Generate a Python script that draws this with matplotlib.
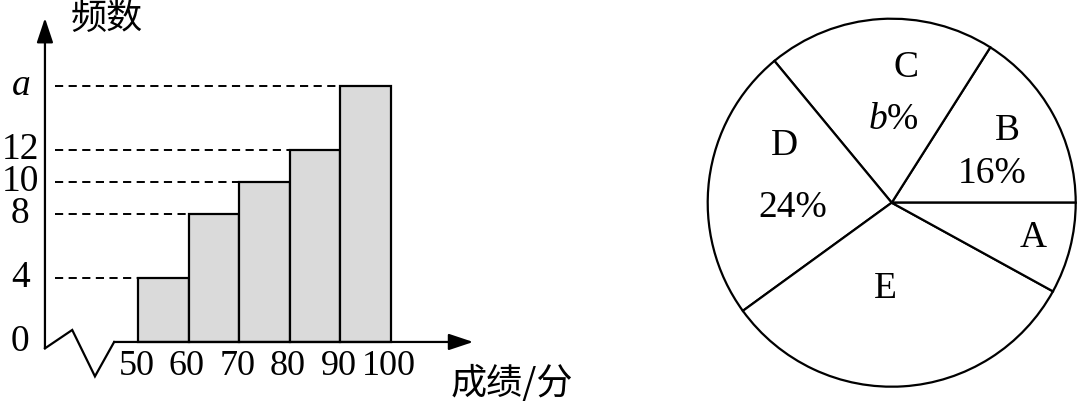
import numpy as np
import matplotlib.pyplot as plt

plt.rcParams['font.family'] = ['Liberation Serif', 'Noto Sans CJK SC']
plt.rcParams['mathtext.fontset'] = 'custom'
plt.rcParams['mathtext.rm'] = 'Liberation Serif'
plt.rcParams['mathtext.it'] = 'Liberation Serif:italic'

# histogram data (score bands and counts, a = 16)
edges = [50, 60, 70, 80, 90, 100]
counts = [4, 8, 10, 12, 16]
y_ticks = [0, 4, 8, 10, 12, 16]
y_tick_labels = ['0', '4', '8', '10', '12', '$a$']

# pie data (counter-clockwise from 3 o'clock)
pie_names = ['B', 'C', 'D', 'E', 'A']
pie_shares = [16, 20, 24, 32, 8]
pie_texts = ['16%', '$b$%', '24%', '', '']

fig = plt.figure(figsize=(10.8, 4.05), dpi=100)

# ---- left: frequency histogram ----
ax = fig.add_axes([0, 0, 600 / 1080, 1])
ax.set_xlim(22.6, 141.4)
ax.set_ylim(-3.94, 21.375)
ax.axis('off')

lw = 1.6
widths = np.diff(edges)
ax.bar(edges[:-1], counts, width=widths, align='edge', color='#dadada',
       edgecolor='black', linewidth=lw, zorder=2)

x_axis0 = 31.5  # where the broken y axis stands
# dashed guides to each bar's left top corner
for left, c in zip(edges[:-1], counts):
    ax.plot([x_axis0 + 1.9, left], [c, c], color='black', lw=1.4,
            linestyle=(0, (4.2, 2.8)), zorder=1)

arrow = dict(arrowstyle='-|>,head_length=1.5,head_width=0.5',
             color='black', lw=lw, shrinkA=0, shrinkB=0)
# y axis with arrow
ax.annotate('', xy=(x_axis0, 20.25), xytext=(x_axis0, -0.4), arrowprops=arrow)
# zig-zag break then x axis with arrow
zig_x = [x_axis0, 36.9, 41.4, 45.2]
zig_y = [-0.4, 0.75, -2.15, 0]
ax.plot(zig_x, zig_y, color='black', lw=lw, solid_joinstyle='miter')
ax.annotate('', xy=(116.3, 0), xytext=(45.2, 0), arrowprops=arrow)

for v, lab in zip(y_ticks, y_tick_labels):
    ax.text(26.6, v, lab, ha='center', va='center', fontsize=27)
for e in edges:
    ax.text(e - 0.4, -1.55, str(e), ha='center', va='center', fontsize=26)

ax.text(36.6, 21.3, '频数', ha='left', va='top', fontsize=26,
        family=['Noto Sans CJK SC'])
ax.text(124.0, -2.6, '成绩/分', ha='center', va='center', fontsize=26,
        family=['Noto Sans CJK SC'])

# ---- right: pie chart ----
r_px = 184
cx, cy = 891.7, 405 - 202.7
side = 2.2 * r_px
pax = fig.add_axes([(cx - side / 2) / 1080, (cy - side / 2) / 405,
                    side / 1080, side / 405])
wedges, _ = pax.pie(pie_shares, startangle=0, counterclock=True,
                    colors=['white'] * len(pie_shares),
                    wedgeprops=dict(edgecolor='black', linewidth=lw))
pax.set_xlim(-1.1, 1.1)
pax.set_ylim(-1.1, 1.1)
pax.set_aspect('equal')

# label placement (radius, angle) tuned per slice
name_pos = {'B': (0.74, 32), 'C': (0.74, 84), 'D': (0.66, 152),
            'E': (0.47, 266), 'A': (0.79, 346)}
text_pos = {'B': (0.57, 16), 'C': (0.45, 89), 'D': (0.54, 183)}
for name, txt in zip(pie_names, pie_texts):
    rr, ang = name_pos[name]
    t = np.deg2rad(ang)
    pax.text(rr * np.cos(t), rr * np.sin(t), name, ha='center', va='center',
             fontsize=27)
    if txt:
        rr, ang = text_pos[name]
        t = np.deg2rad(ang)
        pax.text(rr * np.cos(t), rr * np.sin(t), txt, ha='center',
                 va='center', fontsize=27)

fig.savefig('out.png', dpi=100)
